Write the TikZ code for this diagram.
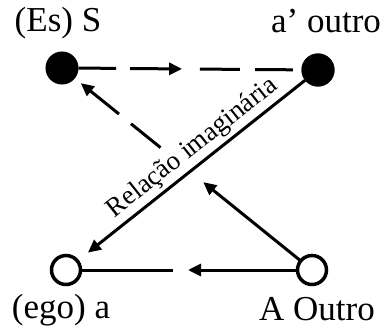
\documentclass[tikz,border=0pt]{standalone}
\usepackage{fontspec}
\setmainfont{Liberation Serif}
\usetikzlibrary{arrows.meta,calc}
\begin{document}
\begin{tikzpicture}[x=1pt,y=-1pt,
  full/.style={circle,draw=black,fill=black,line width=1pt,minimum size=32pt,inner sep=0pt},
  hollow/.style={circle,draw=black,fill=white,line width=3.5pt,minimum size=29pt,inner sep=0pt},
  conn/.style={line width=3pt,black},
  tip/.style={-{Triangle[length=13pt,width=12pt]}},
  lab/.style={font=\fontsize{35}{35}\selectfont,inner sep=0pt,anchor=base}
]
\useasboundingbox (0,0) rectangle (382,329);
\node[full] (S) at (62,68) {};
\node[full] (ap) at (318,70) {};
\node[hollow] (ego) at (66,270) {};
\node[hollow] (A) at (312,270) {};
\node[lab] (lS) at (58,32) {(Es) S};
\node[lab] (lap) at (326,33) {a’ outro};
\node[lab] (lego) at (61,318) {(ego) a};
\node[lab] (lA) at (317,320) {A Outro};
% S -> a' dashed
\draw[conn] (S.east) -- ($(S)!0.211!(ap)$);
\draw[conn,tip] ($(S)!0.266!(ap)$) -- ($(S)!0.469!(ap)$);
\draw[conn] ($(S)!0.539!(ap)$) -- ($(S)!0.695!(ap)$);
\draw[conn] ($(S)!0.754!(ap)$) -- ($(S)!0.902!(ap)$);
% A -> S
\draw[conn,tip] ($(A)!0.05!(S)$) -- ($(A)!0.435!(S)$);
\draw[conn] ($(A)!0.606!(S)$) -- ($(A)!0.724!(S)$);
\draw[conn,tip] ($(A)!0.772!(S)$) -- ($(A)!0.925!(S)$);
% A -> ego
\draw[conn] (ego.east) -- ($(ego)!0.435!(A)$);
\draw[conn,tip] (A.west) -- ($(ego)!0.496!(A)$);
% imaginary relation
\draw[conn,tip] (ap) -- ($(ap)!0.913!(ego)$)
  node[pos=0.47,sloped,above=3pt,font=\fontsize{27}{27}\selectfont,inner sep=0pt] (rel) {Relação imaginária};
\node[full] at (ap) {};
\end{tikzpicture}
\end{document}
